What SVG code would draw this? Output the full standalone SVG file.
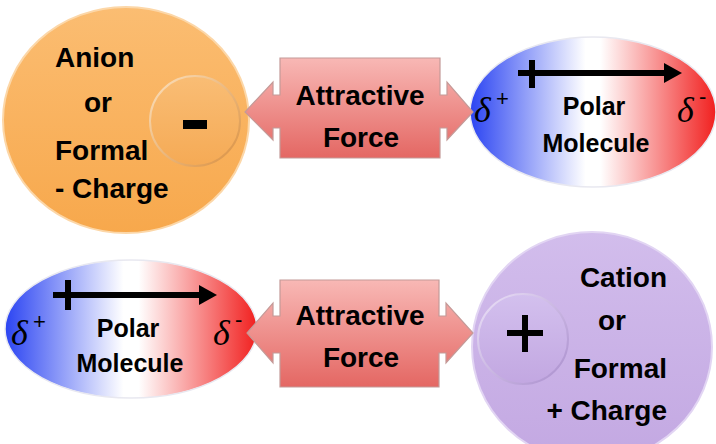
<svg xmlns="http://www.w3.org/2000/svg" width="716" height="444" viewBox="0 0 716 444">
<defs>
<style>
.t{font-family:"Liberation Sans",Arial,sans-serif;font-weight:bold;font-size:28px;fill:#000}
.p{font-family:"Liberation Sans",Arial,sans-serif;font-weight:bold;font-size:25px;fill:#000;text-anchor:middle}
.d{font-family:"Liberation Serif","Times New Roman",serif;font-style:italic;font-size:36px;fill:#000}
.s{font-family:"Liberation Sans",Arial,sans-serif;font-size:22px;fill:#000}
.arrow{fill:url(#gArrow);stroke:#c49a98;stroke-width:1.2}
.dip{stroke:#000;stroke-width:6;fill:none}
</style>
<linearGradient id="gOrange" x1="0" y1="0" x2="0" y2="1">
<stop offset="0" stop-color="#fbbd72"/><stop offset="1" stop-color="#f7a84c"/>
</linearGradient>
<linearGradient id="gOrangeIn" x1="0" y1="0" x2="0" y2="1">
<stop offset="0" stop-color="#f9bd75"/><stop offset="1" stop-color="#f5aa55"/>
</linearGradient>
<linearGradient id="gOrangeRim" x1="0" y1="0" x2="1" y2="1">
<stop offset="0" stop-color="#fde2bf"/><stop offset="1" stop-color="#d98f3f"/>
</linearGradient>
<linearGradient id="gPurple" x1="0" y1="0" x2="0" y2="1">
<stop offset="0" stop-color="#d2bdec"/><stop offset="1" stop-color="#c3a8e2"/>
</linearGradient>
<linearGradient id="gPurpleIn" x1="0" y1="0" x2="0" y2="1">
<stop offset="0" stop-color="#d3c0ee"/><stop offset="1" stop-color="#c2a7e1"/>
</linearGradient>
<linearGradient id="gPurpleRim" x1="0" y1="0" x2="1" y2="1">
<stop offset="0" stop-color="#ece2f8"/><stop offset="1" stop-color="#a98dcd"/>
</linearGradient>
<linearGradient id="gPolar" x1="0" y1="0" x2="1" y2="0">
<stop offset="0" stop-color="#2b44f2"/><stop offset="0.47" stop-color="#ffffff"/><stop offset="0.53" stop-color="#ffffff"/><stop offset="1" stop-color="#f1201f"/>
</linearGradient>
<linearGradient id="gArrow" x1="0" y1="0" x2="0" y2="1">
<stop offset="0" stop-color="#f8b8b5"/><stop offset="1" stop-color="#e46763"/>
</linearGradient>
</defs>

<g id="anion">
<ellipse cx="126" cy="120" rx="123" ry="113" fill="url(#gOrange)" stroke="#fcd7a8" stroke-width="2"/>
<circle cx="195" cy="121" r="45" fill="url(#gOrangeIn)" stroke="url(#gOrangeRim)" stroke-width="2"/>
<rect x="183" y="120" width="24" height="9" fill="#000"/>
<text class="t" x="55" y="67">Anion</text>
<text class="t" x="84" y="112">or</text>
<text class="t" x="55" y="160">Formal</text>
<text class="t" x="55" y="198">- Charge</text>
</g>

<g id="polar-top">
<ellipse cx="593" cy="112" rx="123" ry="75" fill="url(#gPolar)" stroke="#e8e8f0" stroke-width="1.5"/>
<line class="dip" x1="518" y1="73" x2="666" y2="73"/>
<line class="dip" x1="532" y1="60" x2="532" y2="88"/>
<polygon points="682,73 664,63 664,83" fill="#000"/>
<text class="d" x="474" y="122">δ</text><text class="s" x="496" y="106">+</text>
<text class="p" x="594" y="115">Polar</text>
<text class="p" x="596" y="152">Molecule</text>
<text class="d" x="677" y="122">δ</text><text class="s" x="699" y="104">-</text>
</g>

<g id="polar-bottom">
<ellipse cx="131" cy="329" rx="126" ry="69" fill="url(#gPolar)" stroke="#e8e8f0" stroke-width="1.5"/>
<line class="dip" x1="53" y1="295" x2="201" y2="295"/>
<line class="dip" x1="68" y1="280" x2="68" y2="310"/>
<polygon points="217,295 199,285 199,305" fill="#000"/>
<text class="d" x="11" y="345">δ</text><text class="s" x="33" y="329">+</text>
<text class="p" x="128" y="337">Polar</text>
<text class="p" x="130" y="372">Molecule</text>
<text class="d" x="213" y="345">δ</text><text class="s" x="235" y="327">-</text>
</g>

<g id="cation">
<ellipse cx="592" cy="347" rx="120" ry="115" fill="url(#gPurple)" stroke="#e2d5f3" stroke-width="2"/>
<circle cx="523" cy="339" r="45" fill="url(#gPurpleIn)" stroke="url(#gPurpleRim)" stroke-width="2"/>
<rect x="507" y="330" width="36" height="6" fill="#000"/>
<rect x="522" y="315" width="6" height="37" fill="#000"/>
<text class="t" x="667" y="287" text-anchor="end">Cation</text>
<text class="t" x="598" y="330">or</text>
<text class="t" x="667" y="378" text-anchor="end">Formal</text>
<text class="t" x="667" y="420" text-anchor="end">+ Charge</text>
</g>

<g id="connectors">
<g id="force-top">
<path class="arrow" d="M280,58 H440 V95 H447 V82 L473,112 L447,140 V128 H440 V158 H280 V128 H273 V140 L245,112 L273,82 V95 H280 Z"/>
<text class="t" x="360" y="105" text-anchor="middle">Attractive</text>
<text class="t" x="361" y="147" text-anchor="middle">Force</text>
</g>
<g id="force-bottom">
<path class="arrow" d="M280,280 H439 V316 H446 V303 L473,333 L446,363 V353 H439 V387 H280 V353 H273 V363 L247,333 L273,303 V316 H280 Z"/>
<text class="t" x="360" y="325" text-anchor="middle">Attractive</text>
<text class="t" x="361" y="367" text-anchor="middle">Force</text>
</g>
</g>
</svg>
